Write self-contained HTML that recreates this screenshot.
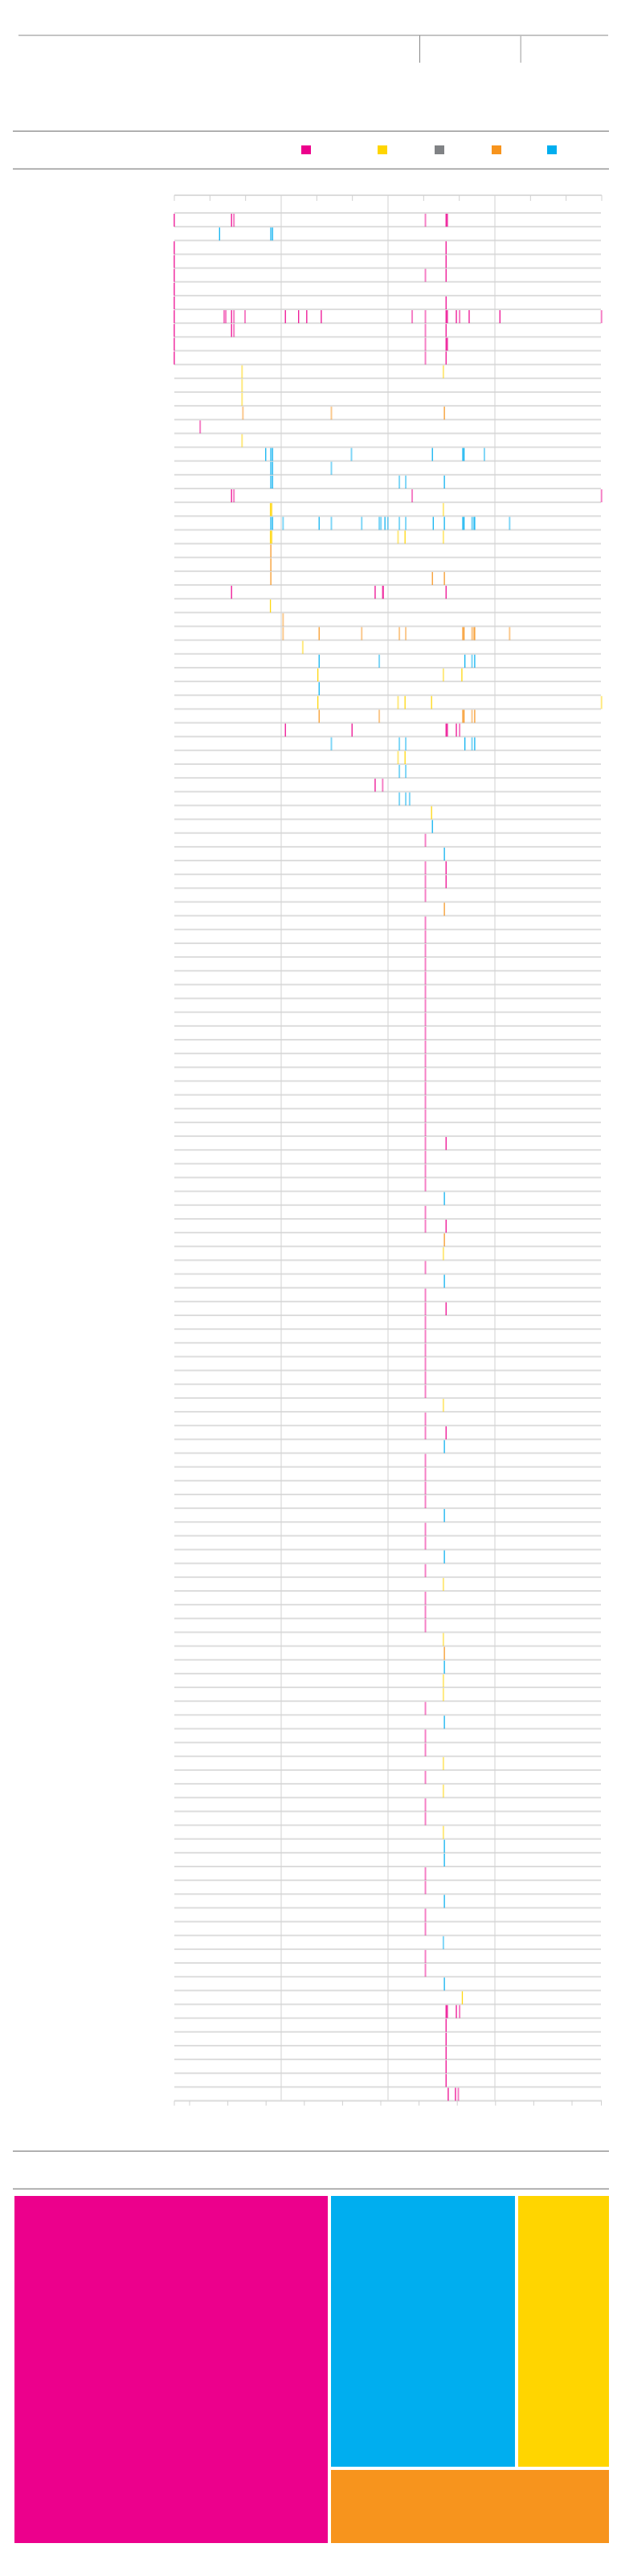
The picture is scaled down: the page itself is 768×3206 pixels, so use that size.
<!DOCTYPE html>
<html><head><meta charset="utf-8">
<style>
html,body{margin:0;padding:0;background:#fff;}
body{width:768px;height:3206px;overflow:hidden;font-family:"Liberation Sans",sans-serif;}
svg{display:block;}
</style></head>
<body>
<svg id="page" width="768" height="3206" viewBox="0 0 768 3206" xmlns="http://www.w3.org/2000/svg">
  <g>
    <rect x="23" y="43" width="734" height="2" fill="#c4c4c4"/>
    <rect x="522" y="44" width="1" height="34" fill="#888"/>
    <rect x="647.5" y="44" width="1.5" height="34" fill="#bbb"/>
  </g>
  <g>
    <rect x="16" y="162.5" width="742" height="1.5" fill="#999"/>
    <rect x="16" y="209.5" width="742" height="1.5" fill="#999"/>
    <rect x="375" y="181" width="12" height="11" fill="#EC008C"/>
    <rect x="470" y="181" width="12" height="11" fill="#FFD500"/>
    <rect x="541" y="181" width="12" height="11" fill="#808285"/>
    <rect x="612" y="181" width="12" height="11" fill="#F7941D"/>
    <rect x="681" y="181" width="12" height="11" fill="#00AEEF"/>
  </g>
  <g id="chart"></g>
  <g>
    <rect x="16" y="2676.5" width="742" height="1.5" fill="#999"/>
    <rect x="16" y="2723.5" width="742" height="1.5" fill="#999"/>
  </g>
  <g>
    <rect x="18" y="2733" width="390" height="432" fill="#EC008C"/>
    <rect x="412" y="2733" width="229" height="337" fill="#00AEEF"/>
    <rect x="645" y="2733" width="113" height="337" fill="#FFD500"/>
    <rect x="412" y="3074" width="346" height="91" fill="#F7941D"/>
  </g>
</svg>
<script>
// ---- data ----
const rowCount = 137;
const xTicksMajor = [0, 25, 50, 75, 100];
// [row, value, light(1)/solid(0)]
const magentaMarks = [
 [0,0,0],[0,13.4,0],[0,13.9,1],[0,58.7,1],[0,63.6,0],[0,63.9,0],
 [2,0,0],[2,63.6,0],[3,0,0],[3,63.6,0],[4,0,0],[4,58.7,1],[4,63.6,0],[5,0,0],[6,0,0],[6,63.6,0],
 [7,0,0],[7,11.6,1],[7,12,1],[7,13.4,0],[7,13.9,1],[7,16.5,1],[7,26,0],[7,29.1,0],[7,31,0],[7,34.4,0],[7,55.6,1],[7,58.7,1],[7,63.6,0],[7,63.9,0],[7,66,0],[7,66.7,1],[7,69,0],[7,76.2,0],[7,99.9,1],
 [8,0,0],[8,13.4,0],[8,13.9,1],[8,58.7,1],[8,63.6,0],[9,0,0],[9,58.7,1],[9,63.6,0],[9,63.9,0],[10,0,0],[10,58.7,1],[10,63.6,0],
 [15,6,1],[20,13.4,0],[20,13.9,1],[20,55.6,1],[20,99.9,1],
 [27,13.4,0],[27,47,0],[27,48.7,1],[27,48.9,0],[27,63.6,0],
 [37,26,0],[37,41.6,0],[37,63.6,0],[37,63.9,0],[37,66,0],[37,66.7,1],
 [41,47,0],[41,48.7,1],[45,58.7,1],[47,58.7,1],[47,63.6,0],[48,58.7,1],[48,63.6,0],[49,58.7,1],
 [67,63.6,0],[73,63.6,0],[79,63.6,0],[88,63.6,0],
 [130,63.6,0],[130,63.9,0],[130,66,0],[130,66.7,1],[131,63.6,0],[132,63.6,0],[133,63.6,0],[134,63.6,0],[135,63.6,0],
 [136,64.1,0],[136,65.8,0],[136,66.4,1]
];
// rows with the long light-magenta column at 58.7
const magentaColumnRows = [51,52,53,54,55,56,57,58,59,60,61,62,63,64,65,66,67,68,69,70,72,73,76,78,79,80,81,82,83,84,85,87,88,90,91,92,93,95,96,98,100,101,102,108,110,111,113,115,116,120,121,123,124,126,127];
const magentaColumnValue = 58.7;
const yellowMarks = [
 [11,15.8,1],[11,62.9,1],[12,15.8,1],[13,15.8,1],[16,15.8,1],
 [21,22.5,0],[21,22.8,0],[21,62.9,1],[23,22.5,0],[23,22.8,0],[23,52.3,1],[23,54,0],[23,62.9,1],
 [28,22.5,0],[31,30,1],[33,33.6,0],[33,62.9,1],[33,67.3,0],[35,33.6,0],[35,52.3,1],[35,54,0],[35,60.2,0],[35,99.9,1],
 [39,52.3,1],[39,54,0],[43,60.2,0],[75,62.9,1],[86,62.9,1],[99,62.9,1],[103,62.9,1],[106,62.9,1],[107,62.9,1],
 [112,62.9,1],[114,62.9,1],[117,62.9,1],[129,67.4,0]
];
const orangeMarks = [
 [14,16,1],[14,36.7,1],[14,63.2,0],[24,22.6,0],[25,22.6,0],[26,22.6,0],[26,60.4,0],[26,63.2,0],
 [29,25.4,1],[30,25.4,1],[30,33.9,0],[30,43.8,1],[30,52.6,1],[30,54.1,1],[30,67.5,0],[30,67.8,0],[30,69.6,1],[30,70,1],[30,70.3,0],[30,78.4,1],
 [36,33.9,0],[36,47.9,1],[36,67.5,0],[36,67.8,0],[36,69.6,1],[36,70.3,0],[50,63.2,0],[74,63.2,0],[104,63.2,0]
];
const blueMarks = [
 [1,10.6,0],[1,22.6,0],[1,23,0],
 [17,21.4,0],[17,22.6,0],[17,23,0],[17,41.4,1],[17,60.4,0],[17,67.5,0],[17,67.8,0],[17,72.5,1],
 [18,22.6,0],[18,23,0],[18,36.7,1],[19,22.6,0],[19,23,0],[19,52.6,1],[19,54.1,1],[19,63.2,0],
 [22,22.6,0],[22,23,0],[22,25.4,1],[22,33.9,0],[22,36.7,1],[22,43.8,1],[22,47.9,1],[22,48.3,1],[22,49.3,0],[22,49.9,1],[22,52.6,1],[22,54.1,1],[22,60.6,0],[22,63.2,0],[22,67.5,0],[22,67.8,0],[22,69.6,1],[22,70,1],[22,70.3,0],[22,78.4,1],
 [32,33.9,0],[32,47.9,1],[32,68,0],[32,69.6,1],[32,70.3,0],[34,33.9,0],
 [38,36.7,1],[38,52.6,1],[38,54.1,1],[38,68,0],[38,69.6,1],[38,70.3,0],
 [40,52.6,1],[40,54.1,1],[42,52.6,1],[42,54.1,1],[42,55,1],[44,60.4,0],[46,63.2,0],
 [71,63.2,0],[77,63.2,0],[89,63.2,0],[94,63.2,0],[97,63.2,0],[105,63.2,0],[109,63.2,0],
 [118,63.2,0],[119,63.2,0],[122,63.2,0],[125,62.9,1],[128,63.2,0]
];
// ---- layout / axis functions ----
const NS = "http://www.w3.org/2000/svg";
const X0 = 217, X1 = 749, TOP = 265, AXIS_TOP = 243, ROW_H = 17.15;
function xScale(v){ return X0 + v/100*(X1-X0); }
function rowY(r){ return TOP + r*ROW_H; }
const chart = document.getElementById('chart');
function mk(tag, attrs){ const e=document.createElementNS(NS,tag); for(const k in attrs) e.setAttribute(k,attrs[k]); chart.appendChild(e); return e; }
const bottom = rowY(rowCount);
// top axis
let el = mk('rect',{x:X0,y:AXIS_TOP-1,width:X1-X0,height:2,fill:'#dcdcdc'});


for(let i=0;i<=12;i++){
  const x = X0 + i*(X1-X0)/12;
  el = mk('rect',{x:x-0.5,y:AXIS_TOP,width:1,height:7,fill:'#d0d0d0'});
  
  
}
// row separators
for(let r=0;r<=rowCount;r++){
  el = mk('rect',{x:X0,y:rowY(r)-1,width:X1-X0-1,height:2,fill:'#dddddd'});
  
  
}
// major gridlines
xTicksMajor.forEach(v=>{
  if(v===0||v===100) return;
  el = mk('rect',{x:xScale(v)-0.5,y:AXIS_TOP,width:1,height:bottom-AXIS_TOP,fill:'#d2d2d2'});
  
  
});
// bottom axis
el = mk('rect',{x:X0,y:bottom-1,width:X1-X0,height:2,fill:'#dcdcdc'});


for(let i=0;i<=11;i++){
  const x = i===11 ? X1-0.5 : 236 + i*47.6 - (i===0?0:0);
  el = mk('rect',{x:x-0.5,y:bottom,width:1,height:6,fill:'#d0d0d0'});
  
  
}
el = mk('rect',{x:X0-0.5,y:bottom,width:1,height:6,fill:'#d0d0d0'});


// marks
function drawMark(r, v, light, color){
  const m = mk('rect',{x:xScale(v)-0.75,y:rowY(r)+1,width:light?2:1.3,height:ROW_H-1,fill:color,opacity:light?0.5:0.95});
  
  
}
magentaMarks.forEach(d=>drawMark(d[0],d[1],d[2],'#EC008C'));
magentaColumnRows.forEach(r=>drawMark(r,magentaColumnValue,1,'#EC008C'));
yellowMarks.forEach(d=>drawMark(d[0],d[1],d[2],'#FFD500'));
orangeMarks.forEach(d=>drawMark(d[0],d[1],d[2],'#F7941D'));
blueMarks.forEach(d=>drawMark(d[0],d[1],d[2],'#00AEEF'));
</script>
</body></html>
